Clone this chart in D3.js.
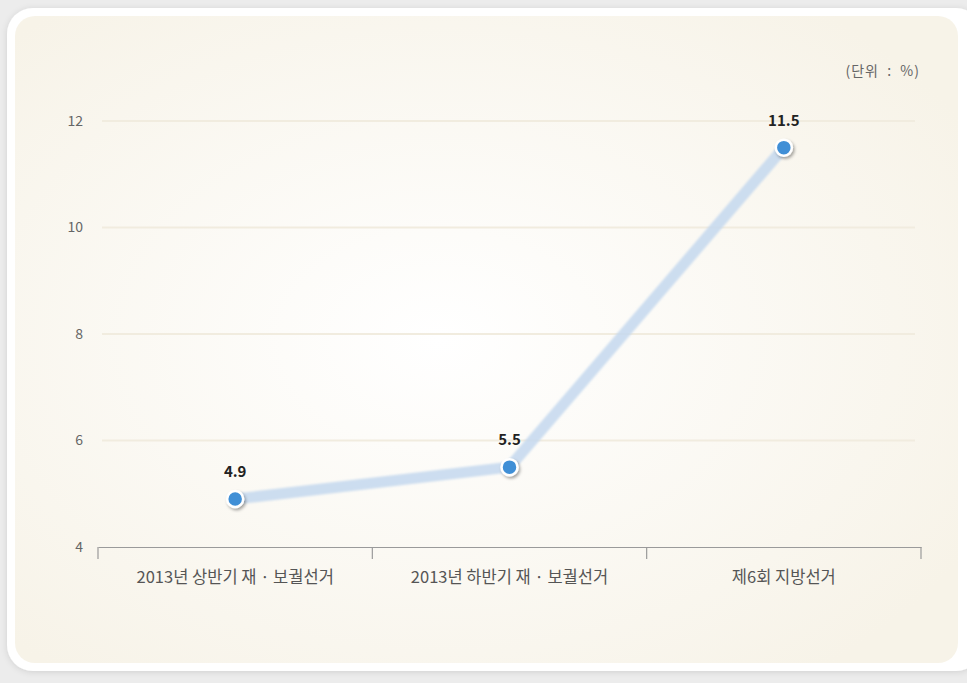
<!DOCTYPE html>
<html>
<head>
<meta charset="utf-8">
<script src="https://cdn.jsdelivr.net/npm/d3@7"></script>
<style>
  body { margin: 0; background: #ececec; }
  svg { display: block; font-family: "Noto Sans CJK KR", "Noto Sans", sans-serif; }
</style>
</head>
<body>
<svg width="967" height="683"></svg>
<script>
const categories = ["2013년 상반기 재 · 보궐선거", "2013년 하반기 재 · 보궐선거", "제6회 지방선거"];
const values = [4.9, 5.5, 11.5];
const yTicks = [4, 6, 8, 10, 12];
const unitLabel = "(단위 : %)";

const svg = d3.select("svg");
const defs = svg.append("defs");

const bg = defs.append("radialGradient").attr("id", "bg")
    .attr("cx", "45%").attr("cy", "50%").attr("r", "65%");
bg.append("stop").attr("offset", "0%").attr("stop-color", "#ffffff");
bg.append("stop").attr("offset", "100%").attr("stop-color", "#f7f3e8");

const shadow = defs.append("filter").attr("id", "shadow")
    .attr("x", "-50%").attr("y", "-50%").attr("width", "200%").attr("height", "200%");
shadow.append("feDropShadow").attr("dx", 1.5).attr("dy", 2).attr("stdDeviation", 1.5)
    .attr("flood-color", "#000").attr("flood-opacity", 0.35);

const blur = defs.append("filter").attr("id", "soft");
blur.append("feGaussianBlur").attr("stdDeviation", 1.2);

const cardShadow = defs.append("filter").attr("id", "cardShadow")
    .attr("x", "-5%").attr("y", "-5%").attr("width", "110%").attr("height", "110%");
cardShadow.append("feDropShadow").attr("dx", 0).attr("dy", 1).attr("stdDeviation", 3)
    .attr("flood-color", "#000").attr("flood-opacity", 0.12);

// card
svg.append("rect")
    .attr("x", 7).attr("y", 8).attr("width", 975).attr("height", 663)
    .attr("rx", 26).attr("fill", "#ffffff").attr("filter", "url(#cardShadow)");
svg.append("rect")
    .attr("x", 15).attr("y", 16).attr("width", 943).attr("height", 647)
    .attr("rx", 20).attr("fill", "url(#bg)");

const margin = { top: 121, left: 98 };
const width = 823, height = 426;

const x = d3.scaleBand().domain(categories).range([0, width]);
const y = d3.scaleLinear().domain([4, 12]).range([height, 0]);

const g = svg.append("g")
    .attr("transform", "translate(" + margin.left + "," + margin.top + ")");

// grid
g.selectAll(".grid")
    .data(yTicks.filter(d => d > 4))
    .enter()
    .append("line")
    .attr("x1", 4).attr("x2", width - 6)
    .attr("y1", d => y(d)).attr("y2", d => y(d))
    .attr("stroke", "#f1ecdf").attr("stroke-width", 2);

// y labels
g.selectAll(".ylab")
    .data(yTicks)
    .enter()
    .append("text")
    .attr("x", -15).attr("y", d => y(d))
    .attr("dy", "0.35em")
    .attr("text-anchor", "end")
    .attr("font-size", 14)
    .attr("fill", "#666")
    .text(d => d);

// x axis
const xAxis = g.append("g")
    .attr("transform", "translate(0," + height + ")")
    .call(d3.axisBottom(x).tickSize(0).tickPadding(24));
xAxis.select(".domain").attr("stroke", "#9a9a9a").attr("stroke-width", 1.2);
xAxis.selectAll("text").attr("font-size", 16.5).attr("fill", "#555")
    .attr("font-family", "\"Noto Sans CJK KR\", sans-serif");

const bounds = [0].concat(categories.map(c => x(c) + x.bandwidth()));
xAxis.selectAll(".sep")
    .data(bounds)
    .enter()
    .append("line")
    .attr("x1", d => d).attr("x2", d => d)
    .attr("y1", 0).attr("y2", 12)
    .attr("stroke", "#9a9a9a").attr("stroke-width", 1.2);

const pts = categories.map((c, i) => ({ c: c, v: values[i] }));
const cx = d => x(d.c) + x.bandwidth() / 2;

// line
g.append("path")
    .datum(pts)
    .attr("fill", "none")
    .attr("stroke", "#c4d8ef")
    .attr("stroke-opacity", 0.85)
    .attr("stroke-width", 11)
    .attr("stroke-linejoin", "round")
    .attr("filter", "url(#soft)")
    .attr("d", d3.line().x(cx).y(d => y(d.v)));

// points
g.selectAll(".pt")
    .data(pts)
    .enter()
    .append("circle")
    .attr("cx", cx).attr("cy", d => y(d.v))
    .attr("r", 8)
    .attr("fill", "#3f8fd6")
    .attr("stroke", "#ffffff").attr("stroke-width", 2.5)
    .attr("filter", "url(#shadow)");

// value labels
g.selectAll(".vlab")
    .data(pts)
    .enter()
    .append("text")
    .attr("x", cx).attr("y", d => y(d.v) - 22)
    .attr("text-anchor", "middle")
    .attr("font-size", 15)
    .attr("font-weight", "bold")
    .attr("fill", "#222")
    .text(d => d.v);

svg.append("text")
    .attr("x", 920).attr("y", 76)
    .attr("text-anchor", "end")
    .attr("font-size", 14)
    .attr("fill", "#666")
    .attr("xml:space", "preserve")
    .style("white-space", "pre")
    .attr("letter-spacing", 1)
    .text(unitLabel.replace(" : ", "  :  "));
</script>
</body>
</html>
